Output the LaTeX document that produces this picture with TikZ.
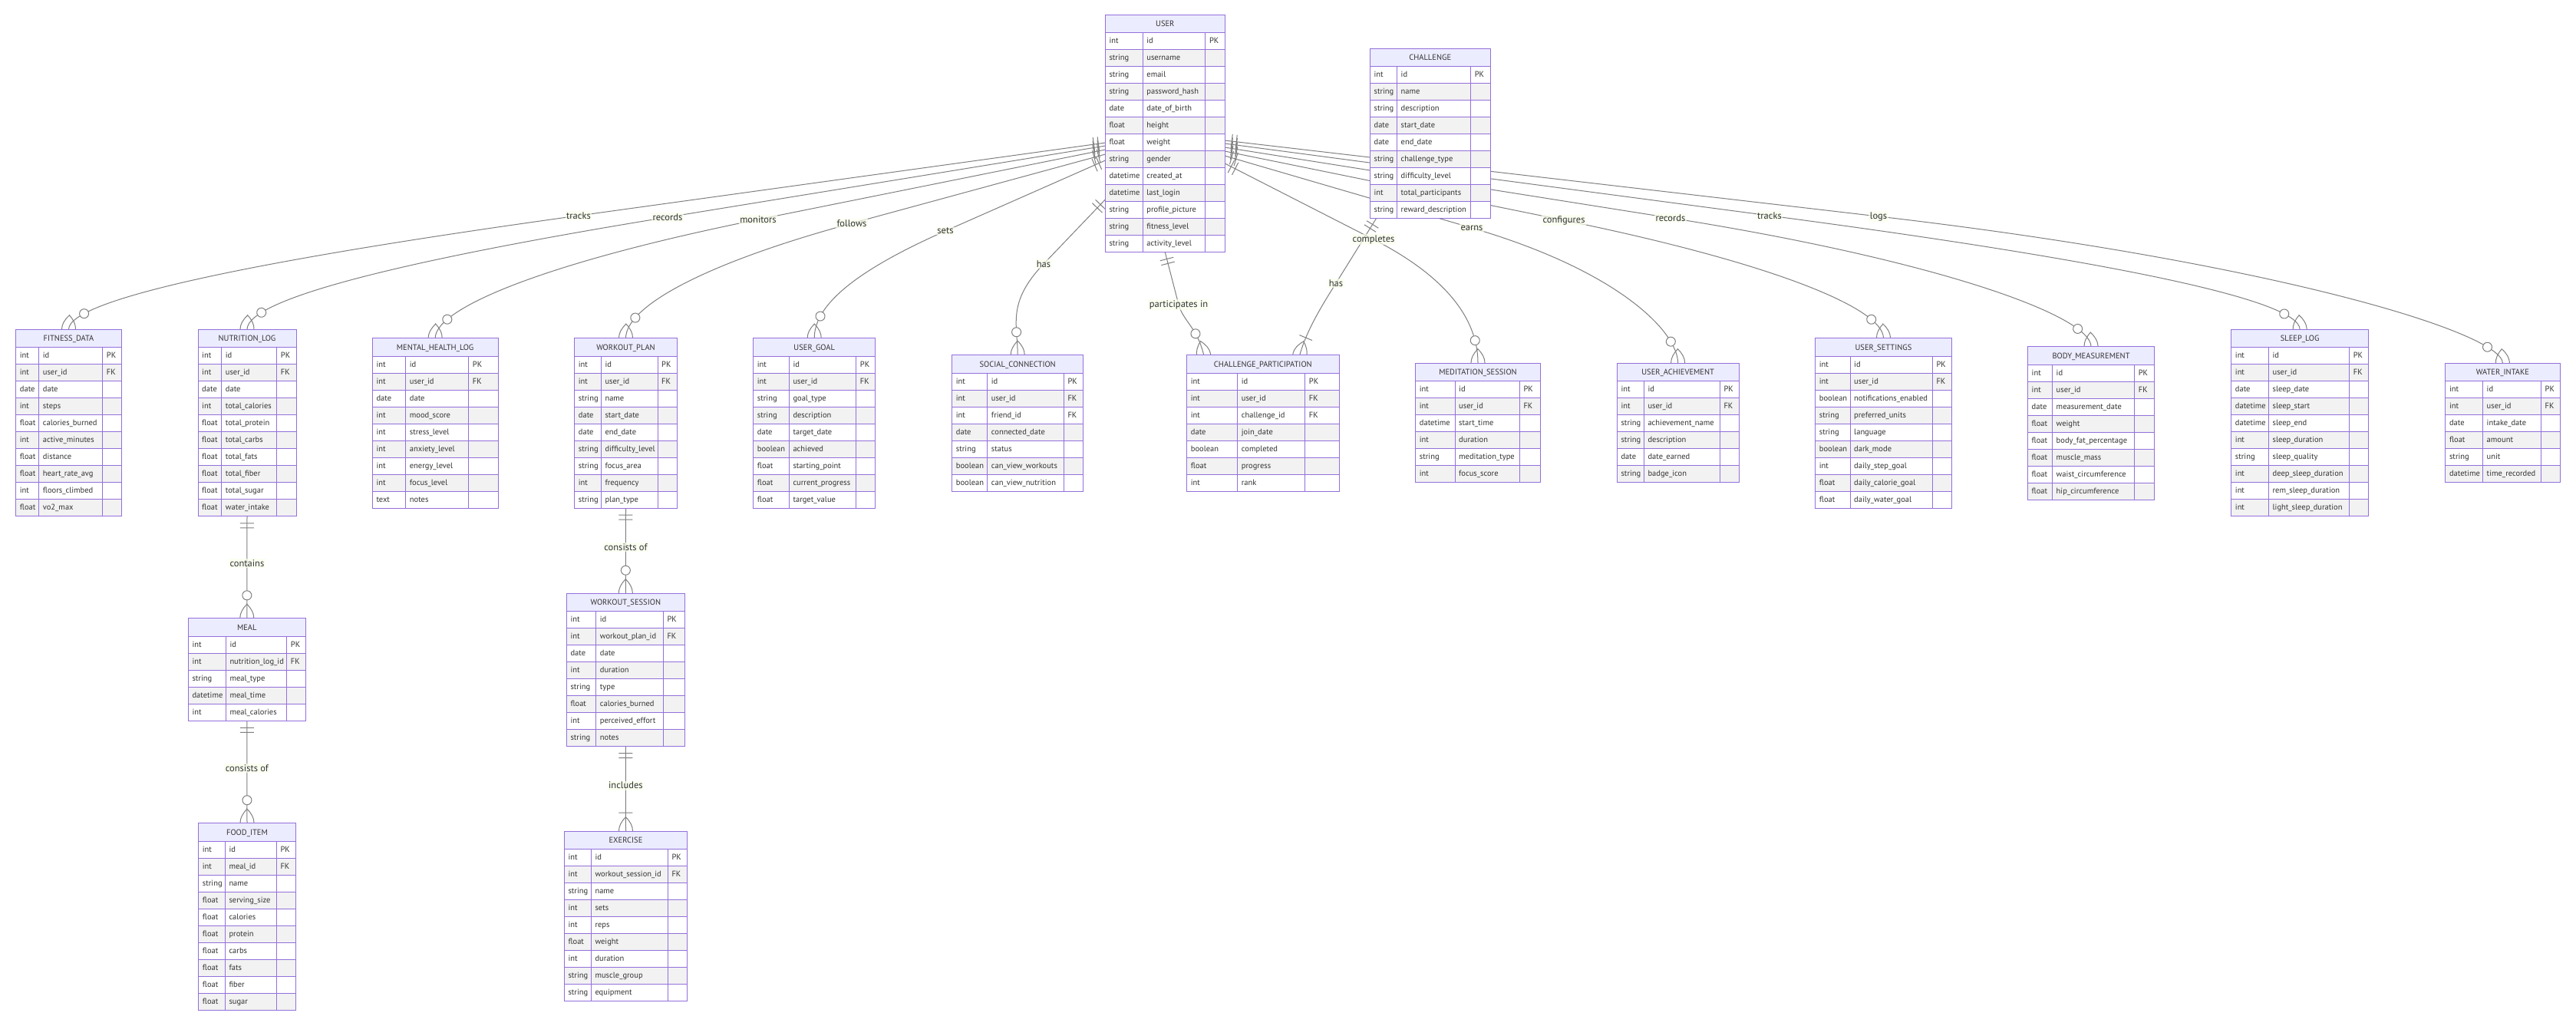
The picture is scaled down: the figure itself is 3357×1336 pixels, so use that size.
\documentclass[tikz,border=0pt]{standalone}
\usepackage{fontspec}
\setmainfont{PT Sans}
\usetikzlibrary{calc,decorations.markings}

\definecolor{erborder}{HTML}{9370DB}
\definecolor{erhead}{HTML}{ECECFF}
\definecolor{errow}{HTML}{F2F2F2}
\definecolor{ertext}{HTML}{333333}
\definecolor{relcol}{HTML}{808080}
\definecolor{lblbg}{RGB}{249,255,236}

\pgfdeclarelayer{back}
\pgfsetlayers{back,main}

% one table: name, top-left corner, widths of the three columns, title, rows
\newcommand\erentity[7]{%
  \begin{scope}[shift={#2}]
    \pgfmathsetmacro\erwa{#3}
    \pgfmathsetmacro\erwb{#3+#4}
    \pgfmathsetmacro\erw{#3+#4+#5}
    \fill[erhead] (0,0) rectangle (\erw,-23.5);
    \node[ertitle] (#1-title) at (\erw/2,-15.5) {#6};
    \foreach \ty/\nm/\ky [count=\i] in {#7}{
      \pgfmathsetmacro\ya{-23.5-22*(\i-1)}
      \ifodd\i\relax\def\erfill{white}\else\def\erfill{errow}\fi
      \fill[fill=\erfill] (0,\ya) rectangle (\erw,\ya-22);
      \draw[erline] (0,\ya) -- (\erw,\ya);
      \node[erattr] (#1-t\i) at (5,\ya-14) {\ty};
      \node[erattr] (#1-n\i) at (\erwa+5,\ya-14) {\nm};
      \node[erattr] (#1-k\i) at (\erwb+5,\ya-14) {\ky};
      \xdef\errows{\i}
    }
    \pgfmathsetmacro\erh{23.5+22*\errows}
    \draw[erline] (\erwa,-23.5) -- (\erwa,-\erh) (\erwb,-23.5) -- (\erwb,-\erh);
    \node[erframe,minimum width=\erw pt,minimum height=\erh pt] (#1) at (0,0) {};
  \end{scope}}

\begin{document}
\begin{tikzpicture}[x=1pt,y=1pt,
  erline/.style={draw=erborder,line width=1pt},
  erframe/.style={draw=erborder,line width=1pt,anchor=north west,inner sep=0pt,outer sep=0pt},
  erattr/.style={anchor=base west,inner sep=0pt,text=ertext,font=\fontsize{10.5}{12}\selectfont},
  ertitle/.style={anchor=base,inner sep=0pt,text=ertext,font=\fontsize{10.5}{12}\selectfont},
  lbl/.style={fill=lblbg,fill opacity=0.7,text opacity=1,text=ertext,inner sep=1.5pt,font=\fontsize{12.5}{14}\selectfont},
  rel/.style={draw=relcol,line width=1pt},
  oneS/.style={postaction={decorate,decoration={markings,
    mark=at position 9pt with {\draw[rel] (0,-9pt) -- (0,9pt);},
    mark=at position 15pt with {\draw[rel] (0,-9pt) -- (0,9pt);}}}},
  zmanyE/.style={postaction={decorate,decoration={markings,
    mark=at position -30pt with {\draw[rel,fill=white] (0,0) circle (6pt);},
    mark=at position -0.5pt with {\draw[rel] (-18pt,0) .. controls (-6pt,12pt) and (6pt,12pt) .. (18pt,0) .. controls (6pt,-12pt) and (-6pt,-12pt) .. cycle;}}}},
  omanyE/.style={postaction={decorate,decoration={markings,
    mark=at position -24pt with {\draw[rel] (0,-9pt) -- (0,9pt);},
    mark=at position -0.5pt with {\draw[rel] (-18pt,0) .. controls (-6pt,12pt) and (6pt,12pt) .. (18pt,0) .. controls (6pt,-12pt) and (-6pt,-12pt) .. cycle;}}}}]
\useasboundingbox (0,0) rectangle (3357,-1336);

% ---- tables ----
\erentity{user}{(1440.3,-19.3)}{48.9}{81.6}{25.5}{USER}{int/id/PK, string/username/{}, string/email/{}, string/password\_hash/{}, date/date\_of\_birth/{}, float/height/{}, float/weight/{}, string/gender/{}, datetime/created\_at/{}, datetime/last\_login/{}, string/profile\_picture/{}, string/fitness\_level/{}, string/activity\_level/{}}
\erentity{challenge}{(1785.4,-63.3)}{35.1}{96.1}{25.5}{CHALLENGE}{int/id/PK, string/name/{}, string/description/{}, date/start\_date/{}, date/end\_date/{}, string/challenge\_type/{}, string/difficulty\_level/{}, int/total\_participants/{}, string/reward\_description/{}}
\erentity{fitness}{(20.7,-429.3)}{30}{83}{24.6}{FITNESS\_DATA}{int/id/PK, int/user\_id/FK, date/date/{}, int/steps/{}, float/calories\_burned/{}, int/active\_minutes/{}, float/distance/{}, float/heart\_rate\_avg/{}, int/floors\_climbed/{}, float/vo2\_max/{}}
\erentity{nutrition}{(258,-429.3)}{30.7}{72}{25.3}{NUTRITION\_LOG}{int/id/PK, int/user\_id/FK, date/date/{}, int/total\_calories/{}, float/total\_protein/{}, float/total\_carbs/{}, float/total\_fats/{}, float/total\_fiber/{}, float/total\_sugar/{}, float/water\_intake/{}}
\erentity{mental}{(485.3,-440.7)}{43.4}{82}{38.3}{MENTAL\_HEALTH\_LOG}{int/id/PK, int/user\_id/FK, date/date/{}, int/mood\_score/{}, int/stress\_level/{}, int/anxiety\_level/{}, int/energy\_level/{}, int/focus\_level/{}, text/notes/{}}
\erentity{wplan}{(748.7,-440.7)}{34.6}{73.7}{25.3}{WORKOUT\_PLAN}{int/id/PK, int/user\_id/FK, string/name/{}, date/start\_date/{}, date/end\_date/{}, string/difficulty\_level/{}, string/focus\_area/{}, int/frequency/{}, string/plan\_type/{}}
\erentity{goal}{(981.7,-440.7)}{46.6}{87.4}{25}{USER\_GOAL}{int/id/PK, int/user\_id/FK, string/goal\_type/{}, string/description/{}, date/target\_date/{}, boolean/achieved/{}, float/starting\_point/{}, float/current\_progress/{}, float/target\_value/{}}
\erentity{social}{(1240.7,-462.7)}{46}{99.6}{25.4}{SOCIAL\_CONNECTION}{int/id/PK, int/user\_id/FK, int/friend\_id/FK, date/connected\_date/{}, string/status/{}, boolean/can\_view\_workouts/{}, boolean/can\_view\_nutrition/{}}
\erentity{cpart}{(1546.7,-462.7)}{66}{88}{44.3}{CHALLENGE\_PARTICIPATION}{int/id/PK, int/user\_id/FK, int/challenge\_id/FK, date/join\_date/{}, boolean/completed/{}, float/progress/{}, int/rank/{}}
\erentity{medit}{(1844.7,-473.3)}{51.3}{84.3}{27}{MEDITATION\_SESSION}{int/id/PK, int/user\_id/FK, datetime/start\_time/{}, int/duration/{}, string/meditation\_type/{}, int/focus\_score/{}}
\erentity{achieve}{(2107.3,-473.3)}{35}{99}{24.7}{USER\_ACHIEVEMENT}{int/id/PK, int/user\_id/FK, string/achievement\_name/{}, string/description/{}, date/date\_earned/{}, string/badge\_icon/{}}
\erentity{settings}{(2365.7,-440.7)}{45.3}{107.3}{25}{USER\_SETTINGS}{int/id/PK, int/user\_id/FK, boolean/notifications\_enabled/{}, string/preferred\_units/{}, string/language/{}, boolean/dark\_mode/{}, int/daily\_step\_goal/{}, float/daily\_calorie\_goal/{}, float/daily\_water\_goal/{}}
\erentity{body}{(2642.5,-451.7)}{32}{107.1}{26}{BODY\_MEASUREMENT}{int/id/PK, int/user\_id/FK, date/measurement\_date/{}, float/weight/{}, float/body\_fat\_percentage/{}, float/muscle\_mass/{}, float/waist\_circumference/{}, float/hip\_circumference/{}}
\erentity{sleep}{(2907.7,-429.3)}{48.7}{105.2}{25}{SLEEP\_LOG}{int/id/PK, int/user\_id/FK, date/sleep\_date/{}, datetime/sleep\_start/{}, datetime/sleep\_end/{}, int/sleep\_duration/{}, string/sleep\_quality/{}, int/deep\_sleep\_duration/{}, int/rem\_sleep\_duration/{}, int/light\_sleep\_duration/{}}
\erentity{water}{(3186.8,-473.3)}{48.7}{76}{24.5}{WATER\_INTAKE}{int/id/PK, int/user\_id/FK, date/intake\_date/{}, float/amount/{}, string/unit/{}, datetime/time\_recorded/{}}
\erentity{meal}{(245.3,-805.8)}{49}{79.4}{24.6}{MEAL}{int/id/PK, int/nutrition\_log\_id/FK, string/meal\_type/{}, datetime/meal\_time/{}, int/meal\_calories/{}}
\erentity{food}{(258.7,-1072.7)}{34.6}{67}{25}{FOOD\_ITEM}{int/id/PK, int/meal\_id/FK, string/name/{}, float/serving\_size/{}, float/calories/{}, float/protein/{}, float/carbs/{}, float/fats/{}, float/fiber/{}, float/sugar/{}}
\erentity{wsession}{(738.3,-773.2)}{38.4}{87.6}{28}{WORKOUT\_SESSION}{int/id/PK, int/workout\_plan\_id/FK, date/date/{}, int/duration/{}, string/type/{}, float/calories\_burned/{}, int/perceived\_effort/{}, string/notes/{}}
\erentity{exercise}{(735.3,-1083.2)}{35}{100}{25.4}{EXERCISE}{int/id/PK, int/workout\_session\_id/FK, string/name/{}, int/sets/{}, int/reps/{}, float/weight/{}, int/duration/{}, string/muscle\_group/{}, string/equipment/{}}

% ---- relationship labels ----
\node[lbl] (l-fit) at (754,-281) {tracks};
\node[lbl] (l-nut) at (870,-283) {records};
\node[lbl] (l-men) at (988,-286) {monitors};
\node[lbl] (l-wpl) at (1110,-291) {follows};
\node[lbl] (l-goal) at (1232,-301) {sets};
\node[lbl] (l-soc) at (1360,-344) {has};
\node[lbl] (l-cp1) at (1536,-397) {participates in};
\node[lbl] (l-cp2) at (1741,-369) {has};
\node[lbl] (l-med) at (1790,-312) {completes};
\node[lbl] (l-ach) at (1918,-297) {earns};
\node[lbl] (l-set) at (2038,-287) {configures};
\node[lbl] (l-body) at (2177,-284) {records};
\node[lbl] (l-sleep) at (2306,-281) {tracks};
\node[lbl] (l-water) at (2448,-282) {logs};
\node[lbl] (l-meal) at ($(nutrition.south)!0.46!(meal.north)$) {contains};
\node[lbl] (l-food) at ($(meal.south)!0.46!(food.north)$) {consists of};
\node[lbl] (l-wses) at ($(wplan.south)!0.46!(wsession.north)$) {consists of};
\node[lbl] (l-exer) at ($(wsession.south)!0.46!(exercise.north)$) {includes};

% ---- relationship lines, behind the tables ----
\begin{pgfonlayer}{back}
\fill[white] (0,0) rectangle (3357,-1336);
\coordinate (s-fit) at ([yshift=-12pt]user.west);
\coordinate (s-nut) at ([yshift=-16pt]user.west);
\coordinate (s-men) at ([yshift=-21pt]user.west);
\coordinate (s-wpl) at ([yshift=-27pt]user.west);
\coordinate (s-goal) at ([yshift=-35pt]user.west);
\coordinate (s-soc) at ([yshift=-86pt]user.west);
\coordinate (s-water) at ([yshift=-9pt]user.east);
\coordinate (s-sleep) at ([yshift=-13pt]user.east);
\coordinate (s-body) at ([yshift=-18pt]user.east);
\coordinate (s-set) at ([yshift=-23pt]user.east);
\coordinate (s-ach) at ([yshift=-29pt]user.east);
\coordinate (s-med) at ([yshift=-39pt]user.east);
\coordinate (s-cp2) at ($(challenge.south west)+(8,0)$);
\coordinate (e-cp1) at ($(cpart.north west)+(22,0)$);
\coordinate (e-cp2) at ($(cpart.north west)+(147,0)$);

\draw[rel,oneS,zmanyE] (s-fit) -- (l-fit.center) .. controls ($(l-fit.center)!-0.6!(s-fit)$) and ($(fitness.north)+(0,40)$) .. (fitness.north);
\draw[rel,oneS,zmanyE] (s-nut) -- (l-nut.center) .. controls ($(l-nut.center)!-0.6!(s-nut)$) and ($(nutrition.north)+(0,40)$) .. (nutrition.north);
\draw[rel,oneS,zmanyE] (s-men) -- (l-men.center) .. controls ($(l-men.center)!-0.6!(s-men)$) and ($(mental.north)+(0,40)$) .. (mental.north);
\draw[rel,oneS,zmanyE] (s-wpl) -- (l-wpl.center) .. controls ($(l-wpl.center)!-0.6!(s-wpl)$) and ($(wplan.north)+(0,40)$) .. (wplan.north);
\draw[rel,oneS,zmanyE] (s-goal) -- (l-goal.center) .. controls ($(l-goal.center)!-0.6!(s-goal)$) and ($(goal.north)+(0,40)$) .. (goal.north);
\draw[rel,oneS,zmanyE] (s-soc) -- (l-soc.center) .. controls ($(l-soc.center)!-0.6!(s-soc)$) and ($(social.north)+(0,40)$) .. (social.north);
\draw[rel,oneS,zmanyE] (user.south) -- (l-cp1.center) .. controls ($(l-cp1.center)!-0.3!(user.south)$) and ($(e-cp1)+(-8,35)$) .. (e-cp1);
\draw[rel,oneS,omanyE] (s-cp2) -- (l-cp2.center) .. controls ($(l-cp2.center)!-0.3!(s-cp2)$) and ($(e-cp2)+(10,35)$) .. (e-cp2);
\draw[rel,oneS,zmanyE] (s-med) -- (l-med.center) .. controls ($(l-med.center)!-0.6!(s-med)$) and ($(medit.north)+(0,40)$) .. (medit.north);
\draw[rel,oneS,zmanyE] (s-ach) -- (l-ach.center) .. controls ($(l-ach.center)!-0.6!(s-ach)$) and ($(achieve.north)+(0,40)$) .. (achieve.north);
\draw[rel,oneS,zmanyE] (s-set) -- (l-set.center) .. controls ($(l-set.center)!-0.6!(s-set)$) and ($(settings.north)+(0,40)$) .. (settings.north);
\draw[rel,oneS,zmanyE] (s-body) -- (l-body.center) .. controls ($(l-body.center)!-0.6!(s-body)$) and ($(body.north)+(0,40)$) .. (body.north);
\draw[rel,oneS,zmanyE] (s-sleep) -- (l-sleep.center) .. controls ($(l-sleep.center)!-0.6!(s-sleep)$) and ($(sleep.north)+(0,40)$) .. (sleep.north);
\draw[rel,oneS,zmanyE] (s-water) -- (l-water.center) .. controls ($(l-water.center)!-0.6!(s-water)$) and ($(water.north)+(0,40)$) .. (water.north);
\draw[rel,oneS,zmanyE] (nutrition.south) -- (meal.north);
\draw[rel,oneS,zmanyE] (meal.south) -- (food.north);
\draw[rel,oneS,zmanyE] (wplan.south) -- (wsession.north);
\draw[rel,oneS,omanyE] (wsession.south) -- (exercise.north);
\end{pgfonlayer}
\end{tikzpicture}
\end{document}
